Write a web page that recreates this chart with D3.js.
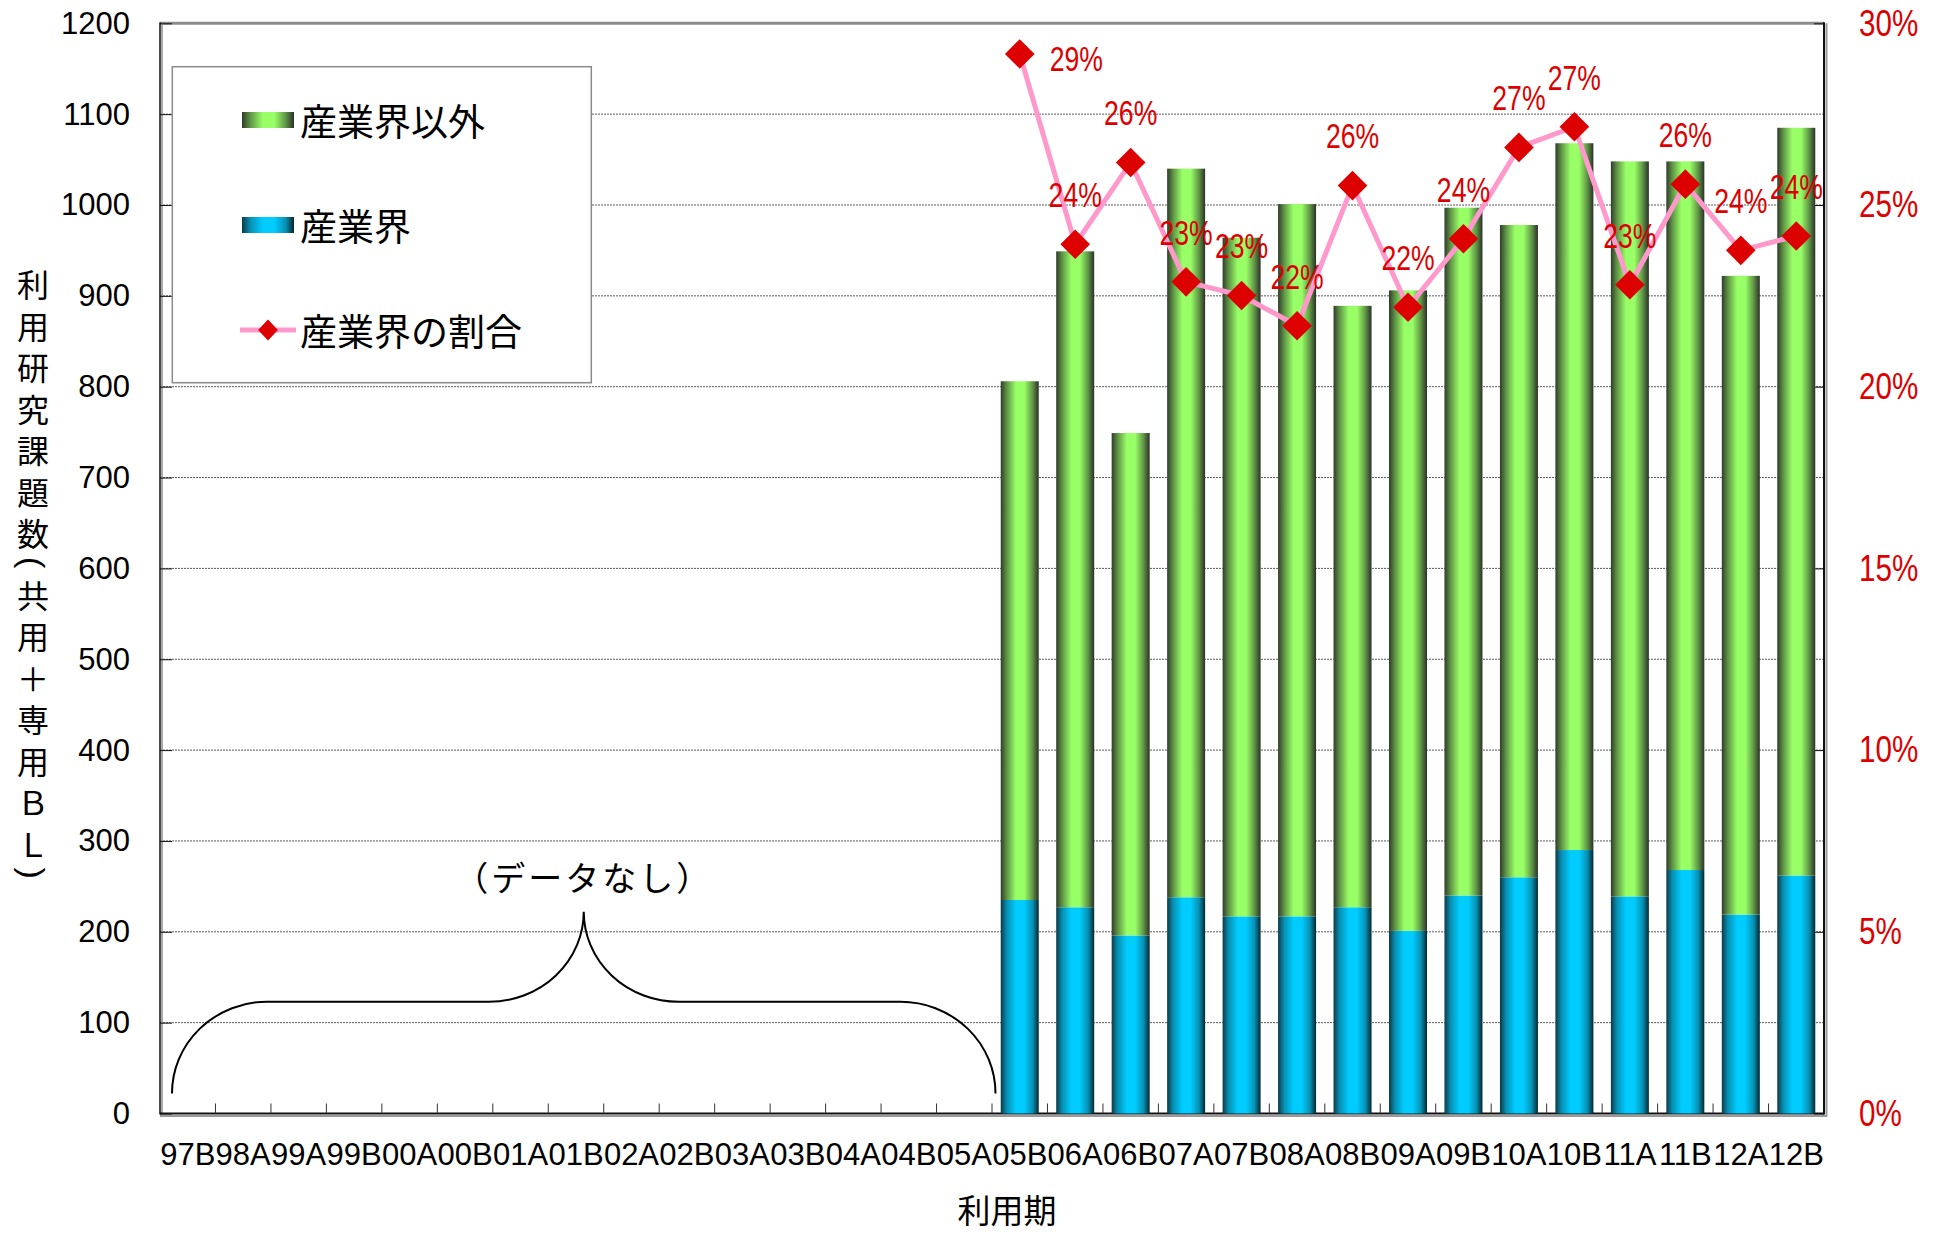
<!DOCTYPE html>
<html lang="ja">
<head>
<meta charset="utf-8">
<title>利用研究課題数と産業界の割合</title>
<script src="https://cdn.jsdelivr.net/npm/d3@7/dist/d3.min.js"></script>
<style>
  html, body { margin: 0; padding: 0; background: #fff; }
  svg { display: block; }
  .jp { font-family: "Noto Sans CJK JP", "Noto Sans", sans-serif; }
</style>
</head>
<body>
<svg id="chart" width="1948" height="1235"></svg>
<script>
// Beam-time periods on the category axis
const periods = ["97B","98A","99A","99B","00A","00B","01A","01B","02A","02B",
                 "03A","03B","04A","04B","05A","05B","06A","06B","07A","07B",
                 "08A","08B","09A","09B","10A","10B","11A","11B","12A","12B"];
// Periods with recorded proposals
const dataPeriods = ["05B","06A","06B","07A","07B","08A","08B","09A","09B",
                     "10A","10B","11A","11B","12A","12B"];
// Proposals from industry
const industry    = [235, 227, 196, 238, 217, 217, 227, 201, 240, 260, 290, 239, 268, 219, 262];
// Proposals from everyone else
const nonIndustry = [571, 722, 553, 802, 747, 784, 662, 705, 757, 718, 778, 809, 780, 703, 823];
// Axis ticks
const leftTicks  = [0,100,200,300,400,500,600,700,800,900,1000,1100,1200];
const rightTicks = [0,0.05,0.10,0.15,0.20,0.25,0.30];
// Text
const yTitleChars = ["利","用","研","究","課","題","数","(","共","用","＋","専","用","Ｂ","Ｌ",")"];
const xTitle = "利用期";
const noDataText = "（データなし）";
const legendLabels = ["産業界以外", "産業界", "産業界の割合"];

const rows = dataPeriods.map((p, i) => ({
  period: p,
  industry: industry[i],
  nonIndustry: nonIndustry[i],
  total: industry[i] + nonIndustry[i],
  share: industry[i] / (industry[i] + nonIndustry[i])
}));

const svg = d3.select("#chart");
const L = 160, R = 1824, T = 23.3, B = 1113.5;
const latin = "Liberation Sans, Arial, sans-serif";

const x = d3.scaleBand().domain(periods).range([L, R]).padding(0);
const y = d3.scaleLinear().domain([0, 1200]).range([B, T]);
const yR = d3.scaleLinear().domain([0, 0.30]).range([B, T]);
const barW = x.bandwidth() * 0.685;
const cx = p => x(p) + x.bandwidth() / 2;

// Cylinder-like shading for the bars
const defs = svg.append("defs");
function shade(id, edgeL, mid, core, edgeR) {
  const g = defs.append("linearGradient").attr("id", id)
    .attr("x1", "0%").attr("x2", "100%").attr("y1", "0%").attr("y2", "0%");
  [[0, edgeL], [0.16, mid], [0.40, core], [0.62, core], [0.84, mid], [1, edgeR]]
    .forEach(([o, c]) => g.append("stop").attr("offset", o).attr("stop-color", c));
}
shade("gGreen", "#2f3d2a", "#5f9446", "#99ff66", "#2a3127");
shade("gBlue",  "#0d3a46", "#0790b3", "#00ccff", "#03272f");

// Dotted grid lines
svg.append("g").selectAll("line").data(leftTicks.filter(v => v > 0 && v < 1200)).join("line")
  .attr("x1", L).attr("x2", R)
  .attr("y1", d => y(d)).attr("y2", d => y(d))
  .attr("stroke", "#5a5a5a").attr("stroke-width", 1).attr("stroke-dasharray", "2,1");

// Plot frame with shadow edges
const frame = svg.append("g");
frame.append("line").attr("x1", L).attr("x2", R).attr("y1", T).attr("y2", T)
  .attr("stroke", "#8c8c8c").attr("stroke-width", 3);
frame.append("line").attr("x1", L + 2).attr("x2", L + 2).attr("y1", T).attr("y2", B)
  .attr("stroke", "#a8a8a8").attr("stroke-width", 2);
frame.append("line").attr("x1", L).attr("x2", L).attr("y1", T - 1).attr("y2", B + 1)
  .attr("stroke", "#111").attr("stroke-width", 1.5);
frame.append("line").attr("x1", R + 2.5).attr("x2", R + 2.5).attr("y1", T).attr("y2", B + 3)
  .attr("stroke", "#9a9a9a").attr("stroke-width", 2);
frame.append("line").attr("x1", R).attr("x2", R).attr("y1", T - 1).attr("y2", B + 1)
  .attr("stroke", "#111").attr("stroke-width", 2);
frame.append("line").attr("x1", L).attr("x2", R + 3).attr("y1", B + 2.5).attr("y2", B + 2.5)
  .attr("stroke", "#9a9a9a").attr("stroke-width", 2);
frame.append("line").attr("x1", L).attr("x2", R).attr("y1", B).attr("y2", B)
  .attr("stroke", "#111").attr("stroke-width", 2);

// Category tick marks (inward, at band edges)
svg.append("g").selectAll("line").data(periods.slice(1)).join("line")
  .attr("x1", d => x(d)).attr("x2", d => x(d))
  .attr("y1", B - 10).attr("y2", B)
  .attr("stroke", "#333").attr("stroke-width", 1);

// Left axis
const gL = svg.append("g").attr("transform", `translate(${L},0)`)
  .call(d3.axisLeft(y).tickValues(leftTicks).tickSize(-12).tickPadding(30).tickFormat(d3.format("d")));
gL.select(".domain").remove();
gL.selectAll(".tick line").attr("stroke", "#111");
gL.selectAll("text").attr("font-size", 31).attr("fill", "#000").attr("font-family", latin);

// Right axis (share)
const sxR = 0.8;
const gR = svg.append("g").attr("transform", `translate(${R},0)`)
  .call(d3.axisRight(yR).tickValues(rightTicks).tickSize(-10).tickFormat(d3.format(".0%")));
gR.select(".domain").remove();
gR.selectAll(".tick line").attr("stroke", "#111");
gR.selectAll("text").attr("x", 35 / sxR).attr("transform", `scale(${sxR},1)`)
  .attr("font-size", 37).attr("fill", "#dd0000").attr("font-family", latin);

// Bottom axis labels
const gB = svg.append("g").attr("transform", `translate(0,${B})`)
  .call(d3.axisBottom(x).tickSize(0).tickPadding(29.5));
gB.select(".domain").remove();
gB.selectAll("text").attr("font-size", 31).attr("fill", "#000").attr("font-family", latin);

// Vertical axis title, one character per line; brackets turned to vertical form
const yTitle = svg.append("g").attr("class", "jp");
const isBracket = c => c === "(" || c === ")";
let yy = 283;
yTitleChars.forEach((c, i) => {
  if (i > 0) {
    yy += (isBracket(yTitleChars[i - 1]) ? 10 : 20.75) + (isBracket(c) ? 10 : 20.75);
  }
  if (isBracket(c)) {
    yTitle.append("text")
      .attr("transform", `translate(33,${yy}) rotate(90)`)
      .attr("text-anchor", "middle").attr("dominant-baseline", "central")
      .attr("font-family", latin).attr("font-size", 34).attr("fill", "#000").text(c);
  } else {
    yTitle.append("text").attr("x", 33).attr("y", yy)
      .attr("text-anchor", "middle").attr("dominant-baseline", "central")
      .attr("font-size", 32).attr("fill", "#000").text(c);
  }
});
svg.append("text").attr("class", "jp").attr("x", (L + R) / 2 + 15).attr("y", 1209)
  .attr("text-anchor", "middle").attr("dominant-baseline", "central")
  .attr("font-size", 33).attr("fill", "#000").text(xTitle);

// Legend
const lg = svg.append("g");
lg.append("rect").attr("x", 172.3).attr("y", 66.7).attr("width", 419).attr("height", 316)
  .attr("fill", "#fff").attr("stroke", "#8a8a8a").attr("stroke-width", 1.5);
lg.append("rect").attr("x", 242).attr("y", 112).attr("width", 52).attr("height", 16).attr("fill", "url(#gGreen)");
lg.append("rect").attr("x", 242).attr("y", 217).attr("width", 52).attr("height", 16).attr("fill", "url(#gBlue)");
lg.append("line").attr("x1", 240).attr("x2", 296).attr("y1", 330).attr("y2", 330)
  .attr("stroke", "#ff99cc").attr("stroke-width", 5);
lg.append("path").attr("d", d3.symbol().type(d3.symbolDiamond2).size(250)())
  .attr("transform", "translate(268,330) scale(1,1.05)").attr("fill", "#dd0000");
[120, 225, 330].forEach((ly, i) => {
  lg.append("text").attr("class", "jp").attr("x", 300).attr("y", ly)
    .attr("dominant-baseline", "central").attr("font-size", 37).attr("fill", "#000")
    .text(legendLabels[i]);
});

// Brace over the periods without data
const braceL = x("97B") + 12, braceR = x("05B") + 3.5;
const mid = (braceL + braceR) / 2, r = 95;
const yEnd = y(22), yFlat = y(123), yPeak = y(222);
const ryO = yEnd - yFlat, ryI = yFlat - yPeak;
const braceD = [
  `M${braceL},${yEnd}`,
  `A${r},${ryO} 0 0 1 ${braceL + r},${yFlat}`,
  `L${mid - r},${yFlat}`,
  `A${r},${ryI} 0 0 0 ${mid},${yPeak}`,
  `A${r},${ryI} 0 0 0 ${mid + r},${yFlat}`,
  `L${braceR - r},${yFlat}`,
  `A${r},${ryO} 0 0 1 ${braceR},${yEnd}`
].join(" ");
svg.append("path").attr("d", braceD).attr("fill", "none").attr("stroke", "#000").attr("stroke-width", 2);
svg.append("text").attr("class", "jp").attr("x", mid).attr("y", 876)
  .attr("text-anchor", "middle").attr("dominant-baseline", "central")
  .attr("font-size", 34).attr("letter-spacing", 3).attr("fill", "#000").text(noDataText);

// Stacked bars
const stack = d3.stack().keys(["industry", "nonIndustry"])(rows);
const fills = { industry: "url(#gBlue)", nonIndustry: "url(#gGreen)" };
svg.append("g").selectAll("g").data(stack).join("g")
  .attr("fill", s => fills[s.key])
  .selectAll("rect").data(s => s).join("rect")
  .attr("x", d => cx(d.data.period) - barW / 2)
  .attr("width", barW)
  .attr("y", d => y(d[1]))
  .attr("height", d => y(d[0]) - y(d[1]));

// Industry share line with diamond markers
svg.append("path").datum(rows)
  .attr("d", d3.line().x(d => cx(d.period)).y(d => yR(d.share)))
  .attr("fill", "none").attr("stroke", "#ff99cc").attr("stroke-width", 5)
  .attr("stroke-linejoin", "round");
svg.append("g").selectAll("path").data(rows).join("path")
  .attr("d", d3.symbol().type(d3.symbolDiamond2).size(560)())
  .attr("transform", d => `translate(${cx(d.period)},${yR(d.share)})`)
  .attr("fill", "#dd0000");

// Share labels
const sxL = 0.76;
const fmt = d3.format(".0%");
svg.append("g").selectAll("text").data(rows).join("text")
  .attr("transform", (d, i) => {
    const px = i === 0 ? cx(d.period) + 30 : cx(d.period);
    const py = i === 0 ? yR(d.share) + 5 : yR(d.share) - 49;
    return `translate(${px},${py}) scale(${sxL},1)`;
  })
  .attr("text-anchor", (d, i) => i === 0 ? "start" : "middle")
  .attr("dominant-baseline", "central")
  .attr("font-family", latin)
  .attr("font-size", 35).attr("fill", "#dd0000")
  .text(d => fmt(d.share));
</script>
</body>
</html>
